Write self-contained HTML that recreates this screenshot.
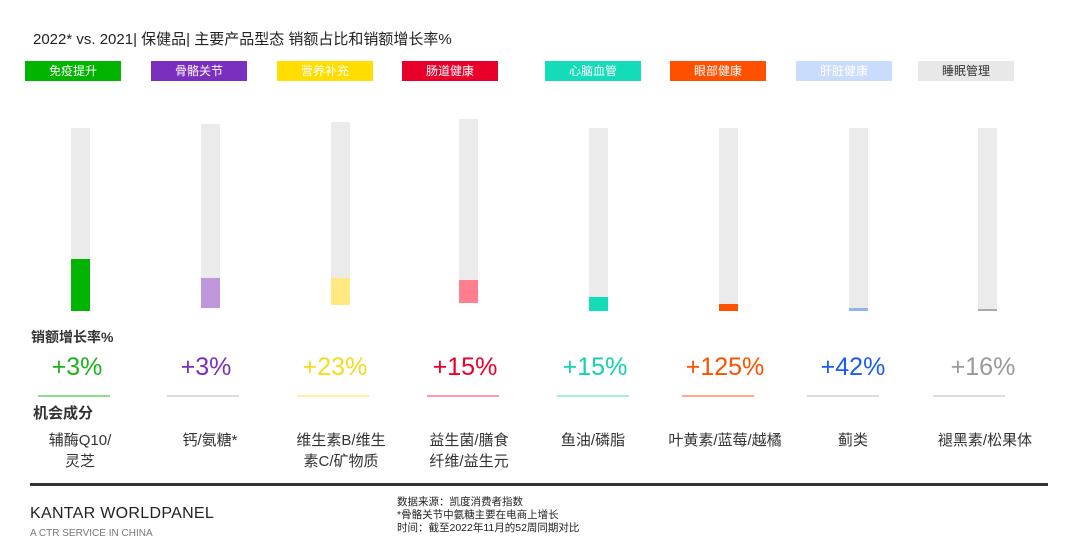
<!DOCTYPE html>
<html><head><meta charset="utf-8"><style>
*{margin:0;padding:0;box-sizing:border-box}
body{width:1080px;height:550px;background:#fff;position:relative;overflow:hidden;font-family:"Liberation Sans","Noto Sans CJK SC",sans-serif;color:#222}
.a{position:absolute}
.lab{position:absolute;top:61px;height:20px;width:96px;font-size:12px;line-height:20px;text-align:center;color:#fff}
.bg{position:absolute;width:19px;background:#ebebeb}
.fg{position:absolute;width:19px}
.val{position:absolute;top:352px;width:130px;text-align:center;font-size:25px;line-height:30px}
.ul{position:absolute;top:395px;width:72px;height:2px}
.ing{position:absolute;top:430px;width:130px;text-align:center;font-size:15px;line-height:21px;color:#333}
</style></head><body>
<div class="a" style="left:33px;top:28px;font-size:15px;color:#222">2022* vs. 2021| 保健品| 主要产品型态 销额占比和销额增长率%</div>

<div class="lab" style="left:25px;background:#00b400">免疫提升</div>
<div class="lab" style="left:151px;background:#7b2fbe">骨骼关节</div>
<div class="lab" style="left:277px;background:#ffdd00">营养补充</div>
<div class="lab" style="left:402px;background:#e8002a">肠道健康</div>
<div class="lab" style="left:545px;background:#14dcb9">心脑血管</div>
<div class="lab" style="left:670px;background:#ff5000">眼部健康</div>
<div class="lab" style="left:796px;background:#cadcfb">肝脏健康</div>
<div class="lab" style="left:918px;background:#e8e8e8;color:#333">睡眠管理</div>

<div class="bg" style="left:71px;top:128px;height:183px"></div><div class="fg" style="left:71px;top:259px;height:52px;background:#00b400"></div>
<div class="bg" style="left:201px;top:124px;height:184px"></div><div class="fg" style="left:201px;top:278px;height:30px;background:#be96dc"></div>
<div class="bg" style="left:331px;top:122px;height:183px"></div><div class="fg" style="left:331px;top:278px;height:27px;background:#ffe980"></div>
<div class="bg" style="left:459px;top:119px;height:184px"></div><div class="fg" style="left:459px;top:280px;height:23px;background:#ff7f90"></div>
<div class="bg" style="left:589px;top:128px;height:183px"></div><div class="fg" style="left:589px;top:297px;height:14px;background:#14dcb9"></div>
<div class="bg" style="left:719px;top:128px;height:183px"></div><div class="fg" style="left:719px;top:304px;height:7px;background:#ff5000"></div>
<div class="bg" style="left:849px;top:128px;height:183px"></div><div class="fg" style="left:849px;top:308px;height:3px;background:#8fb4f0"></div>
<div class="bg" style="left:978px;top:128px;height:183px"></div><div class="fg" style="left:978px;top:309px;height:2px;background:#aaa"></div>

<div class="a" style="left:31px;top:327px;font-size:14px;font-weight:bold;color:#333">销额增长率%</div>
<div class="a" style="left:33px;top:402px;font-size:15px;font-weight:bold;color:#333">机会成分</div>

<div class="val" style="left:12px;color:#1db31d">+3%</div>
<div class="val" style="left:141px;color:#7b2fbe">+3%</div>
<div class="val" style="left:270px;color:#f5dc20">+23%</div>
<div class="val" style="left:400px;color:#e8002a">+15%</div>
<div class="val" style="left:530px;color:#14d2b0">+15%</div>
<div class="val" style="left:660px;color:#ff5000">+125%</div>
<div class="val" style="left:788px;color:#1a5cf0">+42%</div>
<div class="val" style="left:918px;color:#999">+16%</div>

<div class="ul" style="left:38px;background:#8cdc8c"></div>
<div class="ul" style="left:167px;background:#ddd"></div>
<div class="ul" style="left:297px;background:#fff0a0"></div>
<div class="ul" style="left:427px;background:#ff9aaa"></div>
<div class="ul" style="left:557px;background:#9ef0e0"></div>
<div class="ul" style="left:682px;background:#ffaa88"></div>
<div class="ul" style="left:807px;background:#ddd"></div>
<div class="ul" style="left:933px;background:#ddd"></div>

<div class="ing" style="left:15px">辅酶Q10/<br>灵芝</div>
<div class="ing" style="left:145px">钙/氨糖*</div>
<div class="ing" style="left:276px">维生素B/维生<br>素C/矿物质</div>
<div class="ing" style="left:404px">益生菌/膳食<br>纤维/益生元</div>
<div class="ing" style="left:528px">鱼油/磷脂</div>
<div class="ing" style="left:660px">叶黄素/蓝莓/越橘</div>
<div class="ing" style="left:788px">蓟类</div>
<div class="ing" style="left:920px">褪黑素/松果体</div>

<div class="a" style="left:30px;top:483px;width:1018px;height:3px;background:#333"></div>
<div class="a" style="left:30px;top:505px;font-size:16px;color:#222;letter-spacing:0.3px"><span style="font-weight:500">KANTAR</span> WORLDPANEL</div>
<div class="a" style="left:30px;top:528px;font-size:10px;color:#777">A CTR SERVICE IN CHINA</div>
<div class="a" style="left:397px;top:496px;font-size:10.5px;line-height:13px;color:#222">数据来源：凯度消费者指数<br>*骨骼关节中氨糖主要在电商上增长<br>时间：截至2022年11月的52周同期对比</div>
</body></html>
